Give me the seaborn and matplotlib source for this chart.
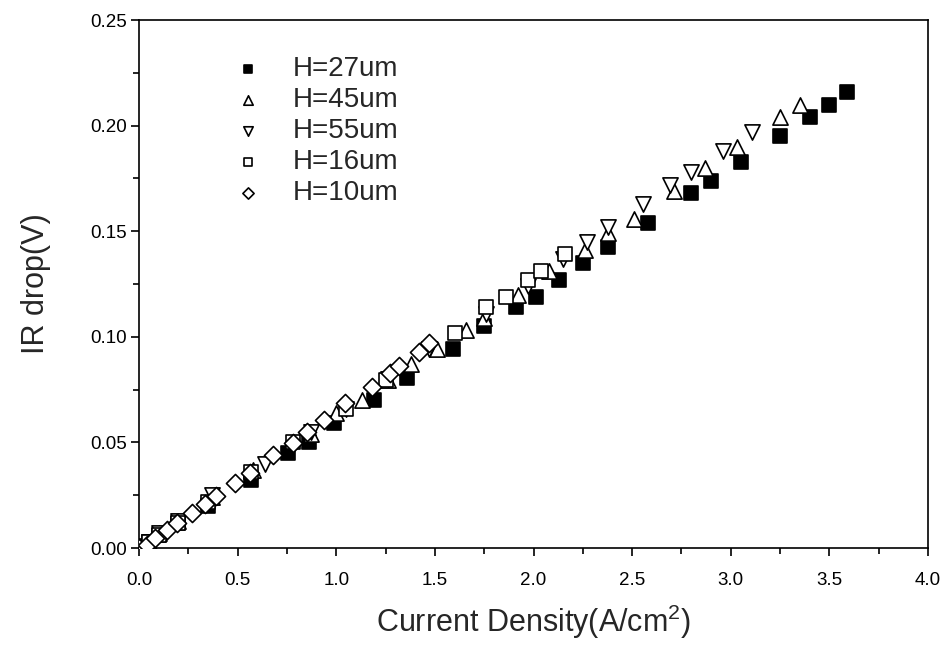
import matplotlib
matplotlib.use("Agg")
import matplotlib.pyplot as plt
from matplotlib.ticker import MultipleLocator, FormatStrFormatter
import numpy as np
import pandas as pd
import seaborn as sns

# IR drop versus current density for several heights H
h27_x = [0, 0.02, 0.05, 0.1, 0.2, 0.35, 0.57, 0.755, 0.86, 0.99, 1.19, 1.36, 1.59, 1.75,
         1.91, 2.01, 2.13, 2.25, 2.38, 2.58, 2.80, 2.90, 3.05, 3.25, 3.40, 3.50, 3.59]
h27_y = [0, 0.001, 0.003, 0.006, 0.012, 0.020, 0.032, 0.045, 0.050, 0.059, 0.070, 0.0805,
         0.094, 0.105, 0.114, 0.119, 0.127, 0.135, 0.1425, 0.154, 0.168, 0.174, 0.183,
         0.195, 0.204, 0.210, 0.216]

h45_x = [0, 0.05, 0.1, 0.2, 0.37, 0.58, 0.87, 1.0, 1.13, 1.26, 1.38, 1.51, 1.66, 1.75,
         1.92, 2.08, 2.26, 2.38, 2.51, 2.71, 2.87, 3.03, 3.25, 3.35]
h45_y = [0, 0.003, 0.007, 0.013, 0.024, 0.037, 0.054, 0.064, 0.070, 0.0795, 0.087, 0.094,
         0.103, 0.109, 0.120, 0.131, 0.141, 0.149, 0.156, 0.169, 0.180, 0.190, 0.204, 0.210]

h55_x = [0, 0.05, 0.1, 0.2, 0.37, 0.64, 0.87, 1.05, 1.26, 1.47, 1.76, 1.97, 2.15, 2.27,
         2.38, 2.555, 2.69, 2.80, 2.96, 3.11]
h55_y = [0, 0.003, 0.007, 0.013, 0.025, 0.040, 0.055, 0.066, 0.080, 0.094, 0.111, 0.124,
         0.137, 0.145, 0.152, 0.163, 0.172, 0.178, 0.188, 0.197]

h16_x = [0, 0.05, 0.1, 0.2, 0.35, 0.57, 0.78, 1.05, 1.25, 1.60, 1.76, 1.86, 1.97, 2.04, 2.16]
h16_y = [0, 0.003, 0.006, 0.012, 0.022, 0.036, 0.050, 0.066, 0.0795, 0.102, 0.114, 0.119,
         0.127, 0.131, 0.139]

h10_x = [0, 0.04, 0.08, 0.14, 0.195, 0.27, 0.335, 0.39, 0.487, 0.565, 0.68, 0.78, 0.85,
         0.94, 1.045, 1.18, 1.27, 1.32, 1.42, 1.47]
h10_y = [0, 0.0014, 0.0047, 0.0085, 0.0118, 0.0166, 0.021, 0.0246, 0.031, 0.0355, 0.044,
         0.0497, 0.055, 0.0605, 0.0685, 0.076, 0.083, 0.086, 0.093, 0.097]

labels = ["H=27um", "H=45um", "H=55um", "H=16um", "H=10um"]
series = [(h27_x, h27_y), (h45_x, h45_y), (h55_x, h55_y), (h16_x, h16_y), (h10_x, h10_y)]
styles = [
    dict(marker="s", facecolor="black", s=105),
    dict(marker="^", facecolor="white", s=120),
    dict(marker="v", facecolor="white", s=120),
    dict(marker="s", facecolor="white", s=105),
    dict(marker="D", facecolor="white", s=85),
]

sns.set_theme(style="ticks")
plt.rcParams["font.family"] = ["Liberation Sans", "DejaVu Sans"]
plt.rcParams["mathtext.default"] = "regular"

fig = plt.figure(figsize=(9.47, 6.46), dpi=100)
ax = fig.add_axes([0.1468, 0.1517, 0.98 - 0.1468, 0.969 - 0.1517])

for (xs, ys), lab, st in zip(series, labels, styles):
    df = pd.DataFrame({"x": xs, "y": ys})
    sns.scatterplot(data=df, x="x", y="y", ax=ax, marker=st["marker"], s=st["s"],
                    facecolor=st["facecolor"], edgecolor="black", linewidth=1.2,
                    label=lab, zorder=3)

ax.set_xlim(0, 4.0)
ax.set_ylim(0, 0.25)
ax.xaxis.set_major_locator(MultipleLocator(0.5))
ax.xaxis.set_minor_locator(MultipleLocator(0.25))
ax.yaxis.set_major_locator(MultipleLocator(0.05))
ax.yaxis.set_minor_locator(MultipleLocator(0.025))
ax.xaxis.set_major_formatter(FormatStrFormatter("%.1f"))
ax.yaxis.set_major_formatter(FormatStrFormatter("%.2f"))
ax.tick_params(which="both", direction="out", width=1.2, labelsize=13.5,
               top=False, right=False, colors="black")
ax.tick_params(which="major", length=6)
ax.tick_params(which="minor", length=4)
ax.tick_params(axis="x", which="major", pad=11)
ax.tick_params(axis="y", which="major", pad=3)
for sp in ax.spines.values():
    sp.set_visible(True)
    sp.set_linewidth(1.2)
    sp.set_color("black")

ax.set_xlabel("Current Density(A/cm$^{2}$)", fontsize=22, labelpad=10)
ax.set_ylabel("IR drop(V)", fontsize=22, labelpad=28)

leg = ax.legend(loc="upper left", bbox_to_anchor=(0.096, 0.952), frameon=False,
                fontsize=20, markerscale=0.62, handletextpad=0.8, labelspacing=0.18,
                handlelength=1.6, borderaxespad=0)

fig.savefig("out.png", dpi=100)
